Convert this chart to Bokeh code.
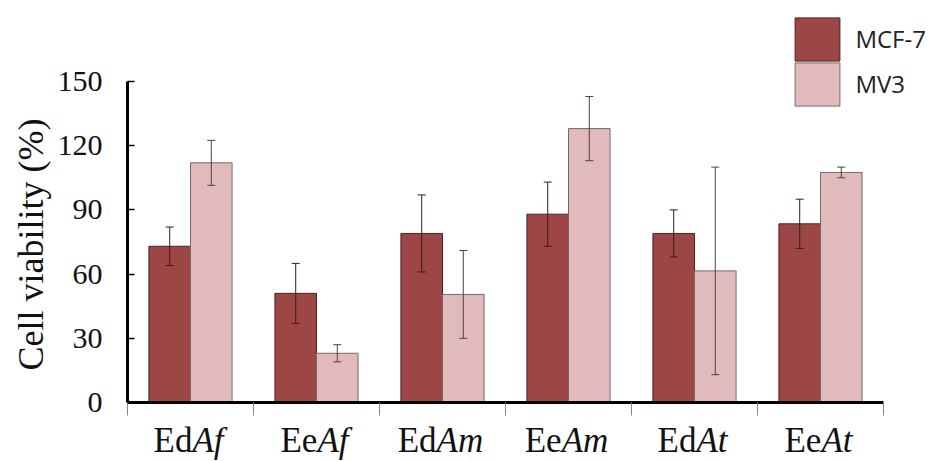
import numpy as np
from bokeh.plotting import figure
from bokeh.models import (Range1d, FixedTicker, Whisker, ColumnDataSource, Label,
                          Legend, LegendItem, TeeHead)
from bokeh.embed import file_html
from bokeh.resources import INLINE

# ---- data ----
prefixes = ["Ed", "Ee", "Ed", "Ee", "Ed", "Ee"]
species = ["Af", "Af", "Am", "Am", "At", "At"]
mcf7 = [73, 51, 79, 88, 79, 83.5]
mcf7_err = [9, 14, 18, 15, 11, 11.5]
mv3 = [112, 23, 50.5, 128, 61.5, 107.5]
mv3_err = [10.5, 4, 20.5, 15, 48.5, 2.5]
yticks = [0, 30, 60, 90, 120, 150]
series = ["MCF-7", "MV3"]

C1, C2 = "#9C4646", "#E1BABB"
serif = "Liberation Serif"

n = len(prefixes)
idx = np.arange(n)
bw = 0.33
x1 = idx + 0.5 - bw / 2
x2 = idx + 0.5 + bw / 2

s1 = ColumnDataSource(dict(x=x1, top=mcf7, up=np.array(mcf7) + np.array(mcf7_err),
                           lo=np.array(mcf7) - np.array(mcf7_err)))
s2 = ColumnDataSource(dict(x=x2, top=mv3, up=np.array(mv3) + np.array(mv3_err),
                           lo=np.array(mv3) - np.array(mv3_err)))

# layout: the frame fills the canvas, axes are pinned at x=0 / y=0
W, H = 930, 460
X0, PXX = 127, 126.0     # screen x of x=0, px per category
Y0, PXY = 402, 2.14      # screen y of y=0, px per unit
p = figure(width=W, height=H, title=None,
           x_range=Range1d(-X0 / PXX, (W - X0) / PXX),
           y_range=Range1d(-(H - Y0) / PXY, Y0 / PXY),
           output_backend="svg", toolbar_location=None,
           min_border=0, min_border_left=0, min_border_right=0,
           min_border_top=0, min_border_bottom=0)
p.grid.visible = False
p.outline_line_color = None
p.background_fill_color = "white"
p.border_fill_color = "white"

r1 = p.vbar(x="x", top="top", width=bw, source=s1, fill_color=C1, line_color="#4a2424", line_width=1)
r2 = p.vbar(x="x", top="top", width=bw, source=s2, fill_color=C2, line_color="#7a6868", line_width=1)

for src, col in ((s1, "#3a1c1c"), (s2, "#4e4040")):
    w = Whisker(source=src, base="x", upper="up", lower="lo", line_color=col, line_width=1,
                upper_head=TeeHead(size=8, line_color=col, line_width=1),
                lower_head=TeeHead(size=8, line_color=col, line_width=1),
                level="overlay")
    p.add_layout(w)

# y axis
ya = p.yaxis[0]
ya.fixed_location = 0
ya.ticker = FixedTicker(ticks=yticks)
ya.bounds = (0, 150)
ya.axis_line_width = 3
ya.axis_line_color = "black"
ya.major_tick_in = 7
ya.major_tick_out = 0
ya.major_tick_line_width = 1.5
ya.minor_tick_line_color = None
ya.major_label_standoff = 25
ya.major_label_text_font = serif
ya.major_label_text_font_size = "30px"
ya.major_label_text_color = "#111111"

# x axis
xa = p.xaxis[0]
xa.fixed_location = 0
xa.ticker = FixedTicker(ticks=list(range(n + 1)))
xa.bounds = (0, n)
xa.axis_line_width = 3
xa.axis_line_color = "black"
xa.major_tick_in = 0
xa.major_tick_out = 13
xa.major_tick_line_color = "#888888"
xa.major_tick_line_width = 1
xa.minor_tick_line_color = None
xa.major_label_overrides = {i: "" for i in range(n + 1)}

# category labels (mixed roman / italic)
fs = 35
wroman = {"Ed": 1.111, "Ee": 1.055}
wital = {"Af": 0.889, "Am": 1.333, "At": 0.889}
ylab = -(440 - Y0) / PXY
for i in range(n):
    off = (wroman[prefixes[i]] - wital[species[i]]) * fs / 2 - 2
    p.add_layout(Label(x=i + 0.5, y=ylab, x_offset=off, text=prefixes[i], text_align="right",
                       text_baseline="alphabetic", text_font=serif, text_font_size=f"{fs}px",
                       text_color="#111111"))
    p.add_layout(Label(x=i + 0.5, y=ylab, x_offset=off, text=species[i], text_align="left",
                       text_baseline="alphabetic", text_font=serif, text_font_size=f"{fs}px",
                       text_font_style="italic", text_color="#111111"))

# y title
p.add_layout(Label(x=(30 - X0) / PXX, y=(Y0 - 244) / PXY, text="Cell viability (%)",
                   angle=np.pi / 2, text_align="center", text_baseline="middle",
                   text_font=serif, text_font_size="36px", text_color="#111111"))

# legend: one Legend per item so the swatches can sit close together
GW, GH = 56, 54
for k, (lab, rr, top) in enumerate(zip(series, [r1, r2], [17, 62])):
    gtop = top - 0.1 * GH
    lg = Legend(items=[LegendItem(label=lab, renderers=[rr])],
                location=(795 - 0.1 * GW, H - (gtop + GH)), padding=0, margin=0, spacing=0,
                glyph_width=GW, glyph_height=GH, label_standoff=10,
                label_text_font="Open Sans", label_text_font_size="24px",
                label_text_color="#222222", border_line_color=None,
                background_fill_alpha=0)
    p.add_layout(lg, "center")

open("out.html", "w").write(file_html(p, INLINE))
